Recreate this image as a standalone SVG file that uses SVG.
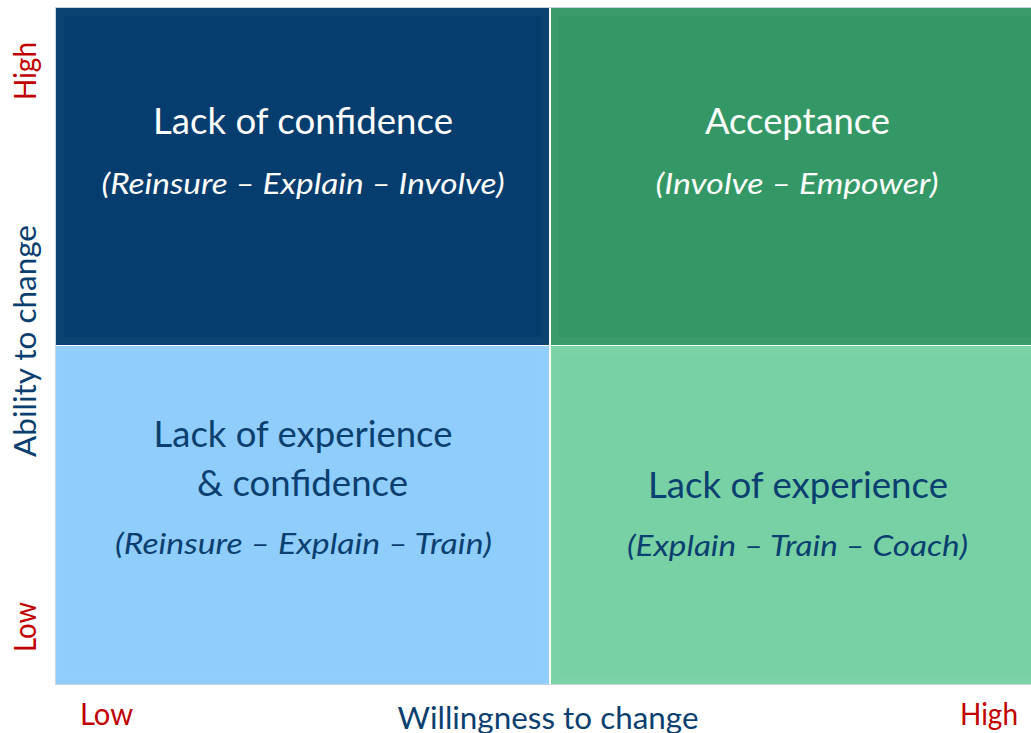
<svg xmlns="http://www.w3.org/2000/svg" width="1031" height="733" viewBox="0 0 1031 733">
<style>
.t{font-family:Lato,"Open Sans","Liberation Sans",sans-serif;text-anchor:middle}
.h{font-size:36px}
.s{font-size:29px;font-style:italic}
.w{fill:#ffffff}
.b{fill:#0a3f70}
.r{fill:#c00000;font-size:30px}
.ax{fill:#0a3f70;font-size:30px}
.bev{fill:none;stroke:#ffffff;stroke-opacity:0.035;stroke-width:8}
</style>
<rect x="0" y="0" width="1031" height="733" fill="#ffffff"/>
<rect x="55.5" y="7.5" width="976" height="677" fill="none" stroke="#c9d6e2" stroke-width="1"/>
<g id="q-lack-confidence">
<rect x="56" y="8" width="493" height="337" fill="#053d6e"/>
<rect x="60" y="12" width="485" height="329" class="bev"/>
<text class="t h w" x="303" y="134" textLength="300" lengthAdjust="spacingAndGlyphs">Lack of confidence</text>
<text class="t s w" x="303" y="194" textLength="403" lengthAdjust="spacingAndGlyphs">(Reinsure – Explain – Involve)</text>
</g>
<g id="q-acceptance">
<rect x="551" y="8" width="480" height="337" fill="#349866"/>
<rect x="555" y="12" width="480" height="329" class="bev"/>
<text class="t h w" x="797.5" y="134" textLength="185" lengthAdjust="spacingAndGlyphs">Acceptance</text>
<text class="t s w" x="797" y="194" textLength="283" lengthAdjust="spacingAndGlyphs">(Involve – Empower)</text>
</g>
<g id="q-lack-exp-conf">
<rect x="56" y="346" width="493" height="338" fill="#8fcdfd"/>
<rect x="60" y="350" width="485" height="330" class="bev"/>
<text class="t h b" x="303" y="447" textLength="299" lengthAdjust="spacingAndGlyphs">Lack of experience</text>
<text class="t h b" x="302.5" y="496" textLength="211" lengthAdjust="spacingAndGlyphs">&amp; confidence</text>
<text class="t s b" x="303.5" y="554" textLength="377" lengthAdjust="spacingAndGlyphs">(Reinsure – Explain – Train)</text>
</g>
<g id="q-lack-experience">
<rect x="551" y="346" width="480" height="338" fill="#77d1a4"/>
<rect x="555" y="350" width="480" height="330" class="bev"/>
<text class="t h b" x="798" y="498" textLength="300" lengthAdjust="spacingAndGlyphs">Lack of experience</text>
<text class="t s b" x="797.5" y="556" textLength="341" lengthAdjust="spacingAndGlyphs">(Explain – Train – Coach)</text>
</g>
<g id="axes">
<text class="t ax" x="548" y="729" textLength="301" lengthAdjust="spacingAndGlyphs">Willingness to change</text>
<text class="t r" x="106.5" y="725" textLength="53" lengthAdjust="spacingAndGlyphs">Low</text>
<text class="t r" x="989" y="725" textLength="58" lengthAdjust="spacingAndGlyphs">High</text>
<text class="t r" transform="translate(36,71) rotate(-90)" textLength="58" lengthAdjust="spacingAndGlyphs">High</text>
<text class="t r" transform="translate(36,627) rotate(-90)" textLength="50" lengthAdjust="spacingAndGlyphs">Low</text>
<text class="t ax" transform="translate(36,341) rotate(-90)" textLength="232" lengthAdjust="spacingAndGlyphs">Ability to change</text>
</g>
</svg>
